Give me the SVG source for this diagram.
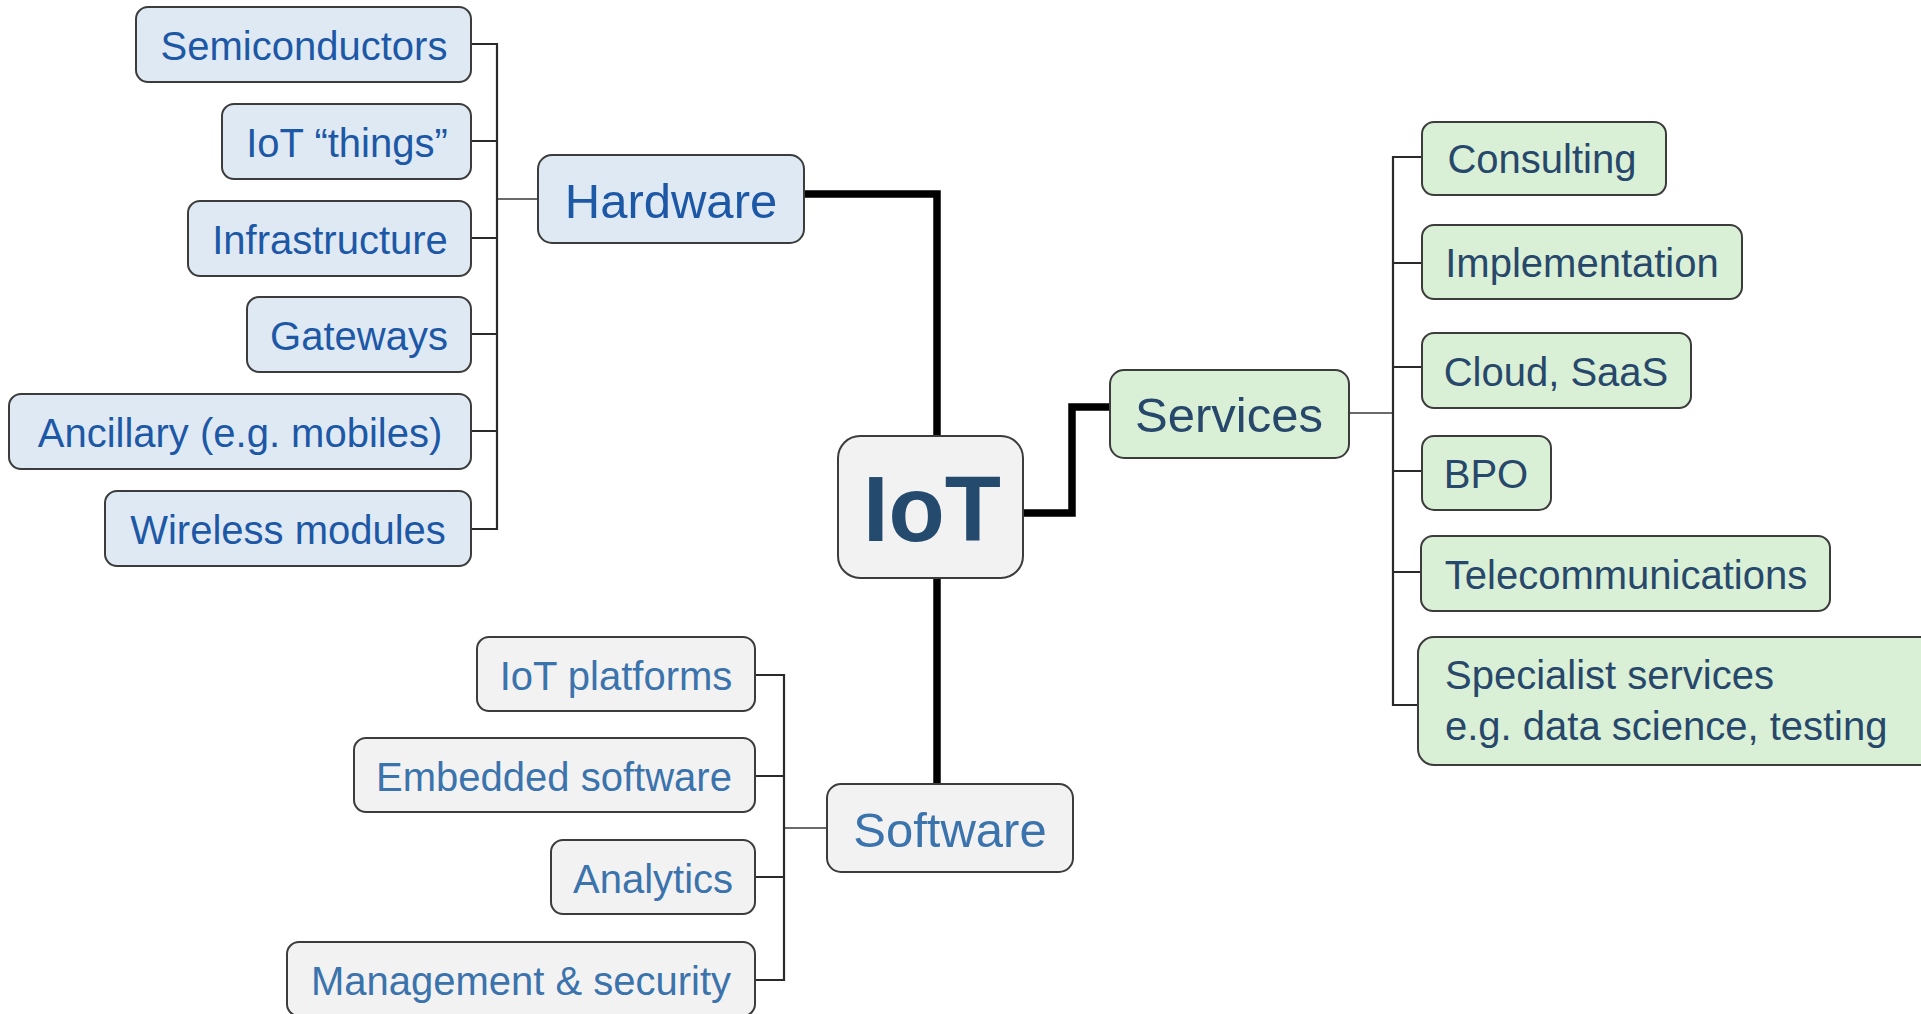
<svg xmlns="http://www.w3.org/2000/svg" width="1921" height="1014" viewBox="0 0 1921 1014">
  <style>
    text { font-family: "Liberation Sans", Arial, sans-serif; }
    .box { stroke: #3c3c3c; stroke-width: 2; }
    .hw { fill: #dfe9f4; }
    .sv { fill: #d9efd6; }
    .sw { fill: #f2f2f2; }
    .t40 { font-size: 40px; }
    .t49 { font-size: 49px; }
    .c { text-anchor: middle; }
    .hwt { fill: #1d58a6; }
    .svt { fill: #27486a; }
    .swt { fill: #3b73ad; }
    .bus { fill: none; stroke: #2a2a2a; stroke-width: 2.2; }
    .stub { fill: none; stroke: #6a6a6a; stroke-width: 2; }
    .trunk { fill: none; stroke: #000; stroke-width: 7.5; stroke-linejoin: miter; }
  </style>

  <!-- connectors -->
  <g id="connectors">
    <!-- main trunks from IoT -->
    <path class="trunk" d="M804,194 H937 V436"/>
    <path class="trunk" d="M937,578 V784"/>
    <path class="trunk" d="M1023,513 H1072 V407 H1110"/>

    <!-- hardware branches -->
    <path class="stub" d="M497,199 H538"/>
    <path class="bus" d="M471,44 H497 V529 H471 M471,141 H497 M471,238 H497 M471,334 H497 M471,431 H497"/>

    <!-- services branches -->
    <path class="stub" d="M1349,413 H1393"/>
    <path class="bus" d="M1422,157 H1393 V705 H1418 M1393,263 H1422 M1393,367 H1422 M1393,471 H1422 M1393,572 H1421"/>

    <!-- software branches -->
    <path class="stub" d="M784,828 H827"/>
    <path class="bus" d="M755,675 H784 V980 H755 M755,776 H784 M755,877 H784"/>
  </g>

  <!-- central node -->
  <g id="iot">
    <rect class="box sw" x="838" y="436" width="185" height="142" rx="22"/>
    <text x="932" y="541" text-anchor="middle" font-size="92" font-weight="bold" fill="#244a6e">IoT</text>
  </g>

  <!-- hardware -->
  <g id="hardware">
    <rect class="box hw" x="538" y="155" width="266" height="88" rx="14"/>
    <text class="t49 c hwt" x="671" y="218">Hardware</text>
  </g>
  <g id="semiconductors">
    <rect class="box hw" x="136" y="7" width="335" height="75" rx="12"/>
    <text class="t40 c hwt" x="304" y="60">Semiconductors</text>
  </g>
  <g id="iot-things">
    <rect class="box hw" x="222" y="104" width="249" height="75" rx="12"/>
    <text class="t40 c hwt" x="347" y="157">IoT “things”</text>
  </g>
  <g id="infrastructure">
    <rect class="box hw" x="188" y="201" width="283" height="75" rx="12"/>
    <text class="t40 c hwt" x="330" y="254">Infrastructure</text>
  </g>
  <g id="gateways">
    <rect class="box hw" x="247" y="297" width="224" height="75" rx="12"/>
    <text class="t40 c hwt" x="359" y="350">Gateways</text>
  </g>
  <g id="ancillary">
    <rect class="box hw" x="9" y="394" width="462" height="75" rx="12"/>
    <text class="t40 c hwt" x="240" y="447">Ancillary (e.g. mobiles)</text>
  </g>
  <g id="wireless-modules">
    <rect class="box hw" x="105" y="491" width="366" height="75" rx="12"/>
    <text class="t40 c hwt" x="288" y="544">Wireless modules</text>
  </g>

  <!-- services -->
  <g id="services">
    <rect class="box sv" x="1110" y="370" width="239" height="88" rx="14"/>
    <text class="t49 c svt" x="1229" y="432">Services</text>
  </g>
  <g id="consulting">
    <rect class="box sv" x="1422" y="122" width="244" height="73" rx="12"/>
    <text class="t40 c svt" x="1542" y="173">Consulting</text>
  </g>
  <g id="implementation">
    <rect class="box sv" x="1422" y="225" width="320" height="74" rx="12"/>
    <text class="t40 c svt" x="1582" y="277">Implementation</text>
  </g>
  <g id="cloud-saas">
    <rect class="box sv" x="1422" y="333" width="269" height="75" rx="12"/>
    <text class="t40 c svt" x="1556" y="386">Cloud, SaaS</text>
  </g>
  <g id="bpo">
    <rect class="box sv" x="1422" y="436" width="129" height="74" rx="12"/>
    <text class="t40 c svt" x="1486" y="488">BPO</text>
  </g>
  <g id="telecommunications">
    <rect class="box sv" x="1421" y="536" width="409" height="75" rx="12"/>
    <text class="t40 c svt" x="1626" y="589">Telecommunications</text>
  </g>
  <g id="specialist-services">
    <rect class="box sv" x="1418" y="637" width="520" height="128" rx="16"/>
    <text class="t40 svt" x="1445" y="689">Specialist services</text>
    <text class="t40 svt" x="1445" y="740">e.g. data science, testing</text>
  </g>

  <!-- software -->
  <g id="software">
    <rect class="box sw" x="827" y="784" width="246" height="88" rx="14"/>
    <text class="t49 c swt" x="950" y="847">Software</text>
  </g>
  <g id="iot-platforms">
    <rect class="box sw" x="477" y="637" width="278" height="74" rx="12"/>
    <text class="t40 c swt" x="616" y="690">IoT platforms</text>
  </g>
  <g id="embedded-software">
    <rect class="box sw" x="354" y="738" width="401" height="74" rx="12"/>
    <text class="t40 c swt" x="554" y="791">Embedded software</text>
  </g>
  <g id="analytics">
    <rect class="box sw" x="551" y="840" width="204" height="74" rx="12"/>
    <text class="t40 c swt" x="653" y="893">Analytics</text>
  </g>
  <g id="management-security">
    <rect class="box sw" x="287" y="942" width="468" height="74" rx="12"/>
    <text class="t40 c swt" x="521" y="995">Management &amp; security</text>
  </g>
</svg>
